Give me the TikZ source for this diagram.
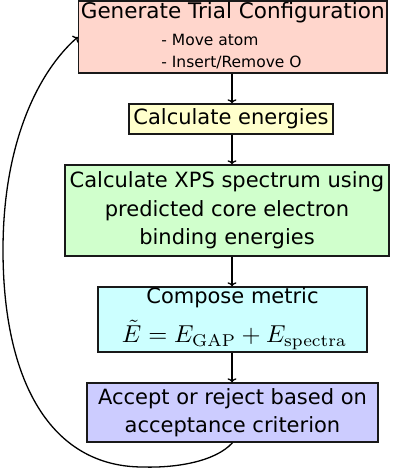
\RequirePackage{fix-cm}
\documentclass[tikz,border=0pt]{standalone}
\usepackage[no-math]{fontspec}
\usepackage{graphicx}
\setmainfont{DejaVu Sans}
\usetikzlibrary{arrows.meta}
\definecolor{cpink}{RGB}{255,214,204}
\definecolor{cyell}{RGB}{255,255,204}
\definecolor{cgreen}{RGB}{208,255,204}
\definecolor{ccyan}{RGB}{204,255,255}
\definecolor{cblue}{RGB}{204,204,255}
\begin{document}
\begin{tikzpicture}[x=1pt,y=-1pt,
  box/.style={draw=black!90,line width=1.4pt,rectangle,inner sep=0pt,align=center,
    font=\fontsize{21}{28.5}\selectfont},
  txt/.style={inner sep=0pt},
  flow/.style={line width=1.3pt,-{To[length=4pt,width=9pt]}}]
\useasboundingbox (0,0) rectangle (400,469);
\node[box,fill=cpink,minimum width=308.5pt,minimum height=72pt] (gen) at (232.75,37) {};
\node[txt,font=\fontsize{21.5}{28.5}\selectfont] (gentitle) at (232.75,13) {Generate Trial Configuration};
\node[txt,align=left,font=\fontsize{15.5}{22}\selectfont] (genlist) at (231.5,51.5) {- Move atom\\- Insert/Remove O};
\node[box,fill=cyell,minimum width=204pt,minimum height=30pt] (energ) at (231,119) {Calculate energies};
\node[box,fill=cgreen,minimum width=324pt,minimum height=91pt] (xps) at (227,210.5)
  {Calculate XPS spectrum using\\predicted core electron\\binding energies};
\node[box,fill=ccyan,minimum width=269pt,minimum height=65pt] (metric) at (232.5,319.5) {};
\node[txt,font=\fontsize{21}{28.5}\selectfont] (metrictitle) at (232.5,298) {Compose metric};
\node[txt] (metriceq) at (234.5,335)
  {\resizebox{225pt}{!}{$\tilde{E}=E_{\mathrm{GAP}}+E_{\mathrm{spectra}}$}};
\node[box,fill=cblue,minimum width=291pt,minimum height=59pt] (acc) at (232.5,412.5)
  {Accept or reject based on\\acceptance criterion};
\coordinate (ax) at (232,0);
\draw[flow] (gen.south -| ax) -- (energ.north -| ax);
\draw[flow] (energ.south -| ax) -- (xps.north -| ax);
\draw[flow] (xps.south -| ax) -- (metric.north -| ax);
\draw[flow] (metric.south -| ax) -- (acc.north -| ax);
\draw[flow] (acc.south) .. controls (215,462) and (175,468) .. (143,467)
  .. controls (50,467) and (3,380) .. (3,250)
  .. controls (3,140) and (40,70) .. (gen.west);
\end{tikzpicture}
\end{document}
